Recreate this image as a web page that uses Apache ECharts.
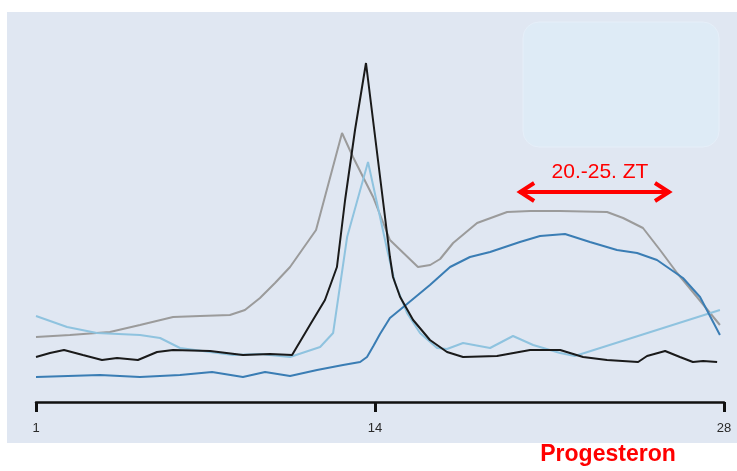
<!DOCTYPE html>
<html>
<head>
<meta charset="utf-8">
<script src="https://cdn.jsdelivr.net/npm/echarts@6.0.0/dist/echarts.min.js"></script>
<style>
html,body{margin:0;padding:0;background:#ffffff;}
#chart{width:737px;height:471px;}
</style>
</head>
<body>
<div id="chart"></div>
<script>
// x: cycle day, y: relative hormone level (arbitrary units)
const tickPositions = [1, 14.3, 28];
const tickLabels = ['1', '14', '28'];
const arrowLabel = '20.-25. ZT';
const titleLabel = 'Progesteron';

const grayLine = [
  [1.00,65],[2.33,67],[3.90,70],[5.08,77],[6.38,85],[7.44,86],[8.61,87],[9.20,92],
  [9.79,104],[10.38,119],[10.97,135],[11.99,172],[13.01,269],[13.44,245],[14.23,205],
  [14.89,162],[15.99,135],[16.47,137],[16.86,143],[17.37,159],[18.31,179],[19.49,190],[20.39,191],
  [21.57,191],[23.41,190],[24.04,184],[24.82,174],[25.49,152],[26.16,129],[26.94,105],[27.84,77]
];
const lightBlueLine = [
  [1.00,86],[2.22,75],[3.39,69],[5.08,67],[5.87,64],[6.65,54],[7.83,50],[8.73,47],
  [9.79,48],[10.97,45],[12.15,55],[12.66,69],[13.21,165],[14.03,240],[14.81,149],
  [15.09,119],[15.56,89],[16.07,69],[16.74,54],[17.13,53],[17.76,59],
  [18.82,54],[19.72,66],[20.51,57],[21.57,49],[22.15,46],[27.84,92]
];
const blueLine = [
  [1.00,25],[3.51,27],[5.08,25],[6.65,27],[7.91,30],[9.12,25],[9.99,30],[10.97,26],
  [12.03,32],[13.05,37],[13.72,40],[13.99,45],[14.24,56],[14.50,68],[14.89,84],
  [15.56,98],[16.46,117],[17.25,135],[18.03,145],[18.82,150],[19.99,160],[20.78,166],[21.76,168],
  [22.74,160],[23.80,152],[24.59,149],[25.37,142],[26.39,124],[27.06,105],[27.84,67]
];
const blackLine = [
  [1.00,45],[1.55,49],[2.10,52],[2.84,47],[3.59,42],[4.18,44],[5.00,42],[5.75,50],
  [6.38,52],[7.83,51],[9.12,47],[10.18,48],[11.05,47],[11.75,77],[12.34,102],[12.81,135],
  [13.13,202],[13.52,272],[13.95,339],[14.89,145],[15.01,125],[15.29,105],[15.80,82],
  [16.46,62],[17.13,50],[17.76,45],[19.09,46],[20.39,52],[21.57,52],[22.47,45],
  [23.41,42],[24.63,40],[24.98,46],[25.69,51],[26.27,45],[26.78,40],[27.18,41],[27.73,40]
];
// annotation range (days) and height
const arrowRange = [19.96, 25.88];
const arrowLevel = 210;

const chart = echarts.init(document.getElementById('chart'), null, {renderer:'canvas'});

function mk(name, data, color, z) {
  return {
    name: name, type: 'line', data: data, symbol: 'none', smooth: false, z: z,
    lineStyle: {color: color, width: 2}, emphasis: {disabled: true}
  };
}

chart.setOption({
  animation: false,
  backgroundColor: '#ffffff',
  grid: {left: 36, right: 13, top: 12, bottom: 69},
  xAxis: {
    type: 'value', min: 1, max: 28,
    axisLine: {show: true, lineStyle: {color: '#111111', width: 2.5}},
    axisTick: {show: true, customValues: tickPositions, length: 10, lineStyle: {color: '#111111', width: 3}},
    axisLabel: {
      customValues: tickPositions, margin: 20, color: '#2a2a2a', fontSize: 13,
      fontFamily: 'Liberation Sans',
      formatter: function (v) { const i = tickPositions.indexOf(v); return i >= 0 ? tickLabels[i] : ''; }
    },
    splitLine: {show: false}
  },
  yAxis: {type: 'value', min: 0, max: 390, show: false},
  series: [
    mk('gray', grayLine, '#9b9b9b', 2),
    mk('lightblue', lightBlueLine, '#8fc3df', 3),
    mk('blue', blueLine, '#3a7db4', 4),
    mk('black', blackLine, '#1a1a1a', 5)
  ]
});

const p1 = chart.convertToPixel({gridIndex: 0}, [arrowRange[0], arrowLevel]);
const p2 = chart.convertToPixel({gridIndex: 0}, [arrowRange[1], arrowLevel]);
const ax = p1[0], bx = p2[0], ay = p1[1];
const red = '#ff0000';

chart.setOption({
  graphic: [
    {type: 'rect', z: -10, silent: true, shape: {x: 7, y: 12, width: 740, height: 431},
      style: {fill: '#e0e7f2'}},
    {type: 'rect', z: -9, silent: true, shape: {x: 523, y: 22, width: 196, height: 125, r: 16},
      style: {fill: '#deebf6', stroke: '#e6eff9', lineWidth: 1}},
    {type: 'line', z: 10, silent: true, shape: {x1: ax, y1: ay, x2: bx, y2: ay},
      style: {stroke: red, lineWidth: 4}},
    {type: 'polyline', z: 10, silent: true, shape: {points: [[ax + 15, ay - 9], [ax + 1, ay], [ax + 15, ay + 9]]},
      style: {stroke: red, lineWidth: 4, fill: null, lineJoin: 'miter'}},
    {type: 'polyline', z: 10, silent: true, shape: {points: [[bx - 15, ay - 9], [bx - 1, ay], [bx - 15, ay + 9]]},
      style: {stroke: red, lineWidth: 4, fill: null, lineJoin: 'miter'}},
    {type: 'text', z: 10, silent: true, x: 600, y: 172,
      style: {text: arrowLabel, fill: red, font: '21px "Liberation Sans", Arial, sans-serif', align: 'center', verticalAlign: 'middle'}},
    {type: 'text', z: 10, silent: true, x: 608, y: 455,
      style: {text: titleLabel, fill: red, font: 'bold 23px "Liberation Sans", Arial, sans-serif', align: 'center', verticalAlign: 'middle'}}
  ]
});
</script>
</body>
</html>
